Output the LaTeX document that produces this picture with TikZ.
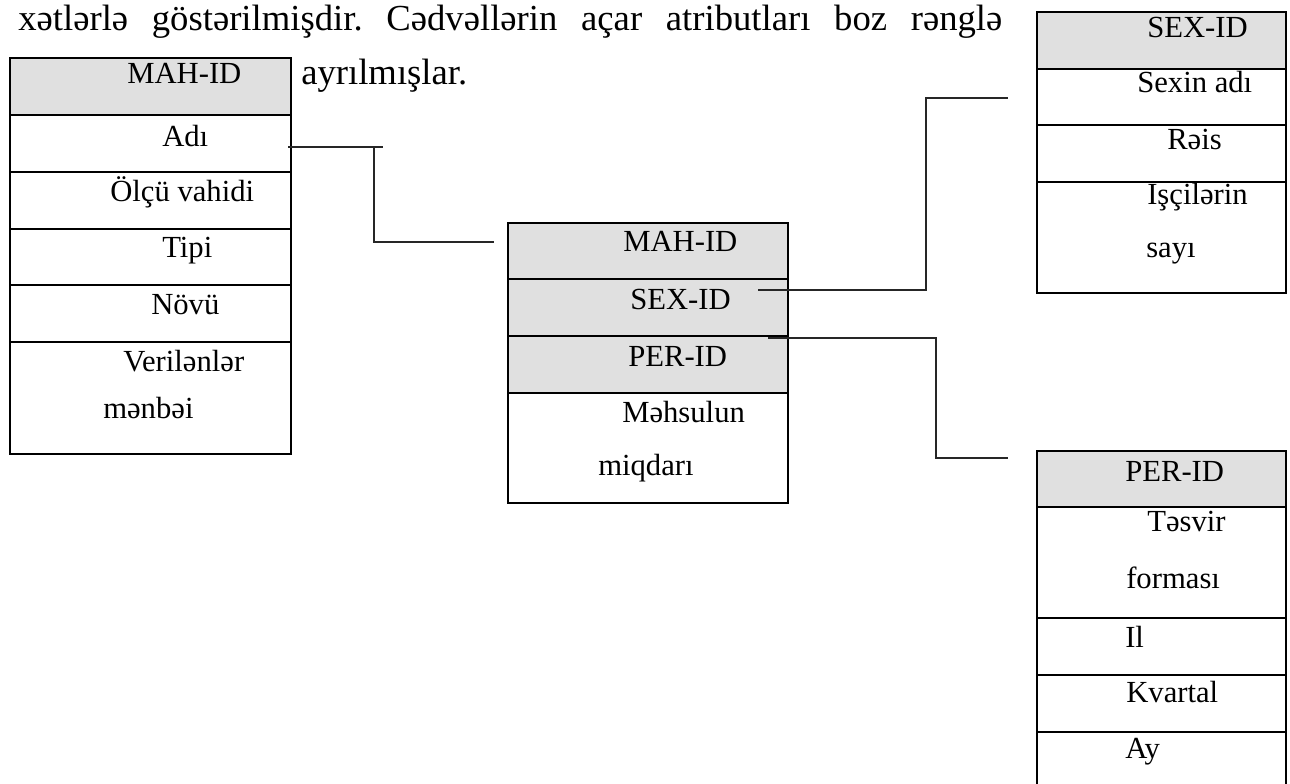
\documentclass[tikz,border=0pt]{standalone}
\usepackage{fontspec}
\setmainfont{Liberation Serif}
\definecolor{keygray}{RGB}{224,224,224}
\frenchspacing
\begin{document}
\begin{tikzpicture}[x=0.75pt,y=-0.75pt,
  frame/.style={draw=black,line width=1.5pt},
  keycell/.style={frame,fill=keygray},
  plaincell/.style={frame,fill=white},
  field/.style={anchor=base west,inner sep=0pt,font=\fontsize{23}{27}\selectfont},
  prose/.style={anchor=base west,inner sep=0pt,font=\fontsize{27.5}{32}\selectfont},
  link/.style={draw=black!85,line width=1.1pt}]
\useasboundingbox[fill=white] (0,0) rectangle (1290,784);

% running text of the page
\node[prose] (introA) at (18,31) {\makebox[738pt][s]{xətlərlə göstərilmişdir. Cədvəllərin açar atributları boz rənglə}};
\node[prose] (introB) at (301,85) {ayrılmışlar.};

% product table
\path[keycell]   (10,58)  rectangle (291,115);
\path[plaincell] (10,115) rectangle (291,172);
\path[plaincell] (10,172) rectangle (291,229);
\path[plaincell] (10,229) rectangle (291,285);
\path[plaincell] (10,285) rectangle (291,342);
\path[plaincell] (10,342) rectangle (291,454);
\node[field] (pKey)  at (127,84)  {MAH-ID};
\node[field] (pName) at (162,147) {Adı};
\node[field] (pUnit) at (110,202) {Ölçü vahidi};
\node[field] (pType) at (162,258) {Tipi};
\node[field] (pKind) at (151,315) {Növü};
\node[field] (pSrcA) at (123,372) {Verilənlər};
\node[field] (pSrcB) at (103,419) {mənbəi};

% fact table
\path[keycell]   (508,223) rectangle (788,279);
\path[keycell]   (508,279) rectangle (788,336);
\path[keycell]   (508,336) rectangle (788,393);
\path[plaincell] (508,393) rectangle (788,503);
\node[field] (fKey)  at (623,252) {MAH-ID};
\node[field] (fSex)  at (630,310) {SEX-ID};
\node[field] (fPer)  at (628,367) {PER-ID};
\node[field] (fQtyA) at (622,423) {Məhsulun};
\node[field] (fQtyB) at (598,475) {miqdarı};

% workshop table
\path[keycell]   (1037,12)  rectangle (1286,69);
\path[plaincell] (1037,69)  rectangle (1286,125);
\path[plaincell] (1037,125) rectangle (1286,182);
\path[plaincell] (1037,182) rectangle (1286,293);
\node[field] (sKey)  at (1147,38)  {SEX-ID};
\node[field] (sName) at (1137,93)  {Sexin adı};
\node[field] (sHead) at (1167,150) {Rəis};
\node[field] (sCntA) at (1147,205) {Işçilərin};
\node[field] (sCntB) at (1146,258) {sayı};

% period table
\path[keycell]   (1037,451) rectangle (1286,507);
\path[plaincell] (1037,507) rectangle (1286,618);
\path[plaincell] (1037,618) rectangle (1286,675);
\path[plaincell] (1037,675) rectangle (1286,732);
\draw[frame] (1037,790) -- (1037,732) -- (1286,732) -- (1286,790);
\node[field] (tKey)  at (1125,482) {PER-ID};
\node[field] (tFmtA) at (1147,532) {Təsvir};
\node[field] (tFmtB) at (1126,588) {forması};
\node[field] (tYear) at (1125,647) {Il};
\node[field] (tQtr)  at (1126,702) {Kvartal};
\node[field] (tMon)  at (1125,758) {Ay};

% links between the tables
\coordinate (adiStart) at (288,147);
\coordinate (adiTip)   at (383,147);
\coordinate (adiJoin)  at (374,147);
\coordinate (adiEnd)   at (494,242);
\draw[link] (adiStart) -- (adiTip);
\draw[link] (adiJoin) |- (adiEnd);

\coordinate (sexStart) at (758,290);
\coordinate (sexEnd)   at (1008,98);
\draw[link] (sexStart) -- ++(168,0) |- (sexEnd);

\coordinate (perStart) at (768,338);
\coordinate (perEnd)   at (1008,458);
\draw[link] (perStart) -- ++(168,0) |- (perEnd);
\end{tikzpicture}
\end{document}
